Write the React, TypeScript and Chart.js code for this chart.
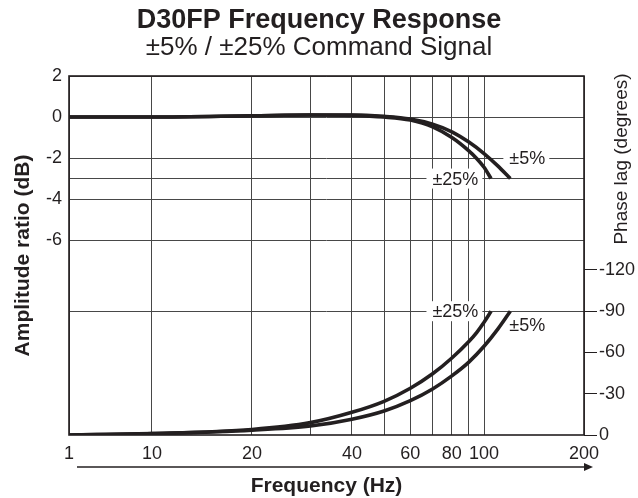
import React, { useEffect, useRef } from 'react';
import { Chart, registerables } from 'chart.js';

Chart.register(...registerables);

// ---- text ----
const TITLE = 'D30FP Frequency Response';
const SUBTITLE = '±5% / ±25% Command Signal';
const X_TITLE = 'Frequency (Hz)';
const Y_TITLE = 'Amplitude ratio (dB)';
const Y2_TITLE = 'Phase lag (degrees)';

// ---- axes ----
const X_GRID_HZ = [1, 10, 20, 30, 40, 50, 60, 70, 80, 90, 100, 200];
const X_LABEL_HZ = [1, 10, 20, 40, 60, 80, 100, 200];
const AMP_GRID = [2, 0, -2, -3, -4, -6];
const AMP_LABELS = [2, 0, -2, -4, -6];
const PHASE_TICKS = [0, -30, -60, -90, -120];
const PHASE_GRID = [-90];

// ---- data: ±5% command signal ----
const FREQ_5 = [1, 10, 20, 30, 40, 50, 60, 70, 80, 90, 100, 110, 120];
const AMP_5 = [0, 0, 0.06, 0.1, 0.1, 0.03, -0.1, -0.35, -0.72, -1.22, -1.78, -2.38, -3.0];
const PHASE_5 = [0, -1, -3.5, -6.5, -11.5, -17.5, -25, -33.5, -43, -53, -64.5, -77, -90];

// ---- data: ±25% command signal ----
const FREQ_25 = [1, 10, 20, 30, 40, 50, 60, 70, 80, 90, 95, 100, 105];
const AMP_25 = [0, 0, 0.06, 0.1, 0.08, 0, -0.15, -0.48, -1.0, -1.65, -2.02, -2.45, -3.0];
const PHASE_25 = [0, -1, -4, -9, -16.5, -24.5, -34, -44.5, -56, -68, -74.5, -82, -90];

// ---- curve labels (text, frequency, axis, value, white box) ----
const CURVE_LABELS = [
  { text: '±5%', hz: 135, axis: 'y', value: -2, box: true },
  { text: '±25%', hz: 82, axis: 'y', value: -3, box: true },
  { text: '±25%', hz: 82, axis: 'y2', value: -90, box: true },
  { text: '±5%', hz: 135, axis: 'y2', value: -80, box: false },
];

const INK = '#231f20';
const GRID = '#474747';
const FONT = '"Liberation Sans", Arial, Helvetica, sans-serif';

// frequency axis: compressed first decade, then log2 (octaves)
const FIRST_DECADE = 0.83;
const P = (hz: number) => (hz >= 10 ? FIRST_DECADE + Math.log2(hz / 10) : FIRST_DECADE * Math.log10(hz));

const decorPlugin = {
  id: 'decor',
  beforeDatasetsDraw(chart: any) {
    const { ctx, chartArea: a } = chart;
    ctx.save();
    ctx.strokeStyle = INK;
    ctx.lineWidth = 1.6;
    ctx.strokeRect(a.left, a.top, a.right - a.left, a.bottom - a.top);
    ctx.restore();
  },
  afterDatasetsDraw(chart: any) {
    const { ctx } = chart;
    const xs = chart.scales.x;
    ctx.save();
    ctx.font = `18px ${FONT}`;
    ctx.textAlign = 'center';
    ctx.textBaseline = 'middle';
    CURVE_LABELS.forEach((l) => {
      const x = xs.getPixelForValue(P(l.hz));
      const y = chart.scales[l.axis].getPixelForValue(l.value);
      const w = ctx.measureText(l.text).width;
      if (l.box) {
        ctx.fillStyle = '#ffffff';
        ctx.fillRect(x - w / 2 - 6, y - 10, w + 10, 20);
      }
      ctx.fillStyle = INK;
      ctx.fillText(l.text, x, y + 1);
    });
    ctx.restore();
  },
  afterDraw(chart: any) {
    const { ctx, chartArea: a } = chart;
    ctx.save();
    // arrow under the frequency axis
    const ay = a.bottom + 32;
    ctx.strokeStyle = INK;
    ctx.fillStyle = INK;
    ctx.lineWidth = 1.5;
    ctx.beginPath();
    ctx.moveTo(a.left + 8, ay);
    ctx.lineTo(a.right + 2, ay);
    ctx.stroke();
    ctx.beginPath();
    ctx.moveTo(a.right + 9, ay);
    ctx.lineTo(a.right, ay - 4);
    ctx.lineTo(a.right, ay + 4);
    ctx.closePath();
    ctx.fill();
    // right axis title (reads bottom to top)
    ctx.translate(a.right + 38, a.top + 83);
    ctx.rotate(-Math.PI / 2);
    ctx.font = `19px ${FONT}`;
    ctx.textAlign = 'center';
    ctx.textBaseline = 'middle';
    ctx.fillText(Y2_TITLE, 0, 0);
    ctx.restore();
  },
};

export default function App() {
  const ref = useRef<HTMLCanvasElement | null>(null);

  useEffect(() => {
    if (!ref.current) return;
    const line = (xs: number[], ys: number[], axis: string, label: string) => ({
      label,
      data: xs.map((f, i) => ({ x: P(f), y: ys[i] })),
      yAxisID: axis,
      borderColor: INK,
      backgroundColor: INK,
      borderWidth: 3.6,
      pointRadius: 0,
      fill: false,
      cubicInterpolationMode: 'monotone' as const,
    });

    const chart = new Chart(ref.current, {
      type: 'line',
      data: {
        datasets: [
          line(FREQ_5, AMP_5, 'y', '±5% amplitude'),
          line(FREQ_25, AMP_25, 'y', '±25% amplitude'),
          line(FREQ_5, PHASE_5, 'y2', '±5% phase'),
          line(FREQ_25, PHASE_25, 'y2', '±25% phase'),
        ],
      },
      options: {
        animation: false,
        responsive: false,
        layout: { padding: 0 },
        plugins: {
          legend: { display: false },
          tooltip: { enabled: false },
          title: {
            display: true,
            text: TITLE,
            color: INK,
            font: { family: FONT, size: 27, weight: 'bold', lineHeight: 1 },
            padding: { top: 7, bottom: 0 },
          },
          subtitle: {
            display: true,
            text: SUBTITLE,
            color: INK,
            font: { family: FONT, size: 26, weight: 'normal', lineHeight: 1 },
            padding: { top: 1, bottom: 15 },
          },
        },
        scales: {
          x: {
            type: 'linear',
            min: P(X_GRID_HZ[0]),
            max: P(X_GRID_HZ[X_GRID_HZ.length - 1]),
            afterBuildTicks: (s: any) => {
              s.ticks = X_GRID_HZ.map((f) => ({ value: P(f) }));
            },
            afterFit: (s: any) => {
              s.height = 63;
            },
            ticks: {
              autoSkip: false,
              maxRotation: 0,
              padding: 8,
              color: INK,
              font: { family: FONT, size: 18 },
              callback: (_v: any, i: number) =>
                X_LABEL_HZ.includes(X_GRID_HZ[i]) ? String(X_GRID_HZ[i]) : '',
            },
            grid: { color: GRID, lineWidth: 1, drawTicks: false },
            border: { display: false },
            title: {
              display: true,
              text: X_TITLE,
              color: INK,
              font: { family: FONT, size: 21, weight: 'bold', lineHeight: 1 },
              padding: { top: 0, bottom: 1 },
            },
          },
          y: {
            type: 'linear',
            position: 'left',
            min: -15.5,
            max: 2,
            afterBuildTicks: (s: any) => {
              s.ticks = AMP_GRID.map((v) => ({ value: v }));
            },
            afterFit: (s: any) => {
              s.width = 69;
            },
            ticks: {
              autoSkip: false,
              padding: 7,
              color: INK,
              font: { family: FONT, size: 18 },
              callback: (v: any) => (AMP_LABELS.includes(v) ? String(v) : ''),
            },
            grid: { color: GRID, lineWidth: 1, drawTicks: false },
            border: { display: false },
            title: {
              display: true,
              text: Y_TITLE,
              color: INK,
              font: { family: FONT, size: 21, weight: 'bold', lineHeight: 1 },
              padding: { top: 13, bottom: 0 },
            },
          },
          y2: {
            type: 'linear',
            position: 'right',
            reverse: true,
            min: -261,
            max: 0,
            afterBuildTicks: (s: any) => {
              s.ticks = PHASE_TICKS.map((v) => ({ value: v }));
            },
            afterFit: (s: any) => {
              s.width = 54;
            },
            ticks: {
              autoSkip: false,
              padding: 2,
              color: INK,
              font: { family: FONT, size: 18 },
              callback: (v: any) => String(v),
            },
            grid: {
              color: (c: any) => (PHASE_GRID.includes(c.tick && c.tick.value) ? GRID : 'rgba(0,0,0,0)'),
              tickColor: INK,
              tickLength: 13,
              lineWidth: 1,
              drawTicks: true,
            },
            border: { display: false },
          },
        },
      },
      plugins: [decorPlugin],
    } as any);

    return () => chart.destroy();
  }, []);

  return (
    <div style={{ position: 'fixed', left: 0, top: 0, width: 638, height: 498, background: '#fff' }}>
      <canvas ref={ref} width={638} height={498} style={{ display: 'block' }} />
    </div>
  );
}
